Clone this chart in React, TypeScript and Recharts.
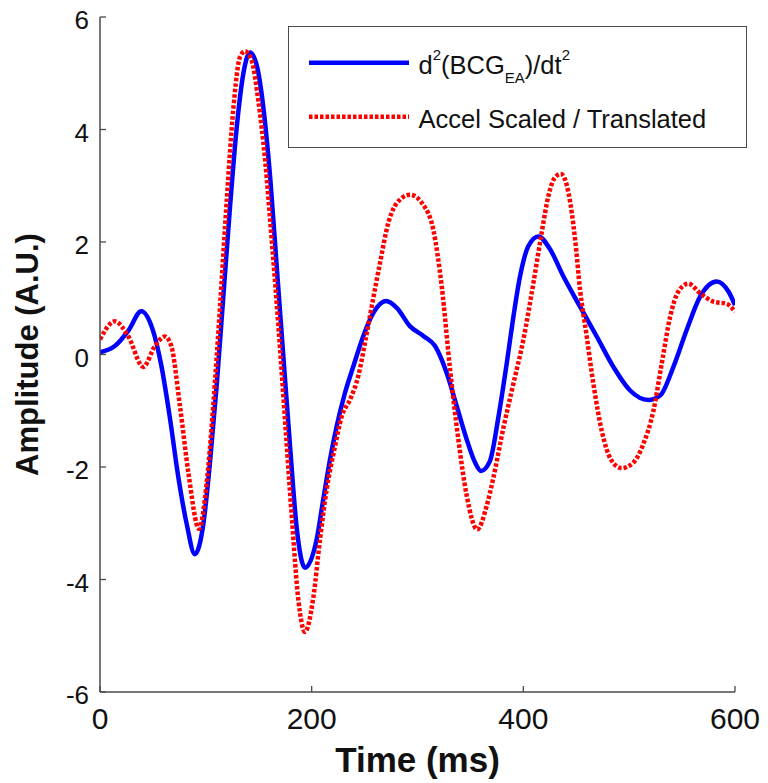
import React from 'react';
import { LineChart, Line, XAxis, YAxis, Legend, Label } from 'recharts';

// ---- data ----
const timeTicks = [0, 200, 400, 600];
const ampTicks = [-6, -4, -2, 0, 2, 4, 6];

const bcgTime = [
  0, 14, 27, 39, 50, 58, 66, 74, 82, 89.6, 97.6, 103.7, 110.2, 116.4, 122.8, 129.1, 135.5, 141.7,
  148, 154.5, 161, 167, 173.1, 179.5, 185.9, 193.7, 204.8, 211, 217.4, 223.7, 231.5, 239.4, 248.8,
  258.3, 270.3, 280.4, 293, 305.5, 316.6, 327.6, 337.1, 346.5, 354.4, 360, 368.5, 376.4, 384.3,
  390.6, 396.9, 404.8, 414.2, 425.3, 437.8, 453.6, 469.4, 485.1, 500.9, 518.2, 529.2, 541.8, 554.4,
  567, 582.8, 593.8, 600,
];
const bcgAmp = [
  0.04, 0.15, 0.43, 0.77, 0.43, -0.2, -1.12, -2.18, -3.02, -3.55, -3.02, -1.96, -0.56, 1.0, 2.61, 4.02, 5.0, 5.37,
  5.15, 4.37, 3.1, 1.56, 0.0, -1.61, -3.09, -3.79, -3.28, -2.57, -1.86, -1.27, -0.68, -0.21, 0.33,
  0.74, 0.95, 0.83, 0.5, 0.33, 0.15, -0.33, -0.92, -1.51, -1.92, -2.07, -1.89, -1.12, -0.16,
  0.67, 1.39, 1.93, 2.1, 1.87, 1.39, 0.85, 0.32, -0.22, -0.64, -0.81, -0.73, -0.22, 0.44,
  1.03, 1.3, 1.12, 0.88,
];

const accelTime = [
  0, 14.1, 26.8, 40.9, 51.9, 61.4, 67.4, 75.5, 83.5, 93.6, 100.6, 107, 113.4, 119.8, 126, 132.3, 137,
  143.4, 149.6, 156, 162.2, 168.6, 174.9, 181.2, 187.4, 193.7, 201.5, 207.8, 214, 222.1, 228.4, 236.3,
  244.1, 250.4, 256.8, 264.6, 272.4, 280.4, 293, 305.5, 314.9, 322.9, 330.8, 338.6, 346.5, 356.4,
  365.4, 371.7, 381.2, 390.6, 400, 409.5, 417.4, 423.7, 430, 435.6, 442.6, 448.9, 453.6, 459.9, 466.2,
  474.1, 483.5, 493, 504, 513.4, 522.9, 530.8, 538.7, 546.5, 556, 567, 579.6, 592.2, 600,
];
const accelAmp = [
  0.27, 0.59, 0.32, -0.22, 0.15, 0.32, 0.15, -0.91, -2.1, -3.1, -2.32, -0.91, 0.85, 2.75, 4.37, 5.29, 5.39,
  5.22, 4.51, 3.46, 2.05, 0.5, -1.19, -2.88, -4.36, -4.93, -4.33, -3.3, -2.42, -1.63, -1.1, -0.8,
  -0.38, 0.21, 0.86, 1.63, 2.34, 2.69, 2.84, 2.66, 2.22, 1.21, -0.27, -1.51, -2.51, -3.11,
  -2.69, -2.19, -1.3, -0.52, 0.26, 1.27, 2.17, 2.82, 3.15, 3.21, 2.88, 2.05, 1.15, 0.32, -0.52,
  -1.36, -1.89, -2.02, -1.92, -1.59, -1.0, -0.16, 0.67, 1.12, 1.26, 1.09, 0.94, 0.9, 0.76,
];

const bcgData = bcgTime.map((t, i) => ({ t, v: bcgAmp[i] }));
const accelData = accelTime.map((t, i) => ({ t, v: accelAmp[i] }));

// ---- styling ----
const W = 768;
const H = 783;
const AXIS = '#4a4a4a';
const FONT = '"Liberation Sans", Arial, Helvetica, sans-serif';
const TICK_LEN = 6;

function BottomTick(props: any) {
  const { x, y, payload } = props;
  return (
    <g>
      <line x1={x} y1={y} x2={x} y2={y - TICK_LEN} stroke={AXIS} strokeWidth={1.3} />
      <text x={x} y={y + 37} textAnchor="middle" fontSize={30} fill="#111" fontFamily={FONT}>
        {payload.value}
      </text>
    </g>
  );
}

function TopTick(props: any) {
  const { x, y } = props;
  return <line x1={x} y1={y} x2={x} y2={y + TICK_LEN} stroke={AXIS} strokeWidth={1.3} />;
}

function LeftTick(props: any) {
  const { x, y, payload } = props;
  return (
    <g>
      <line x1={x} y1={y} x2={x + TICK_LEN} y2={y} stroke={AXIS} strokeWidth={1.3} />
      <text x={x - 11} y={y + 12} textAnchor="end" fontSize={26} fill="#111" fontFamily={FONT}>
        {payload.value}
      </text>
    </g>
  );
}

function RightTick(props: any) {
  const { x, y } = props;
  return <line x1={x} y1={y} x2={x - TICK_LEN} y2={y} stroke={AXIS} strokeWidth={1.3} />;
}

function XTitle(props: any) {
  const vb = props.viewBox || { x: 100, y: 692, width: 635, height: 91 };
  return (
    <text
      x={vb.x + vb.width / 2}
      y={vb.y + 80}
      textAnchor="middle"
      fontSize={35}
      fontWeight="bold"
      fill="#111"
      fontFamily={FONT}
    >
      Time (ms)
    </text>
  );
}

function YTitle(props: any) {
  const vb = props.viewBox || { x: 0, y: 17, width: 100, height: 675 };
  const cx = vb.x + 37.5;
  const cy = vb.y + vb.height / 2;
  return (
    <text
      x={cx}
      y={cy}
      transform={`rotate(-90 ${cx} ${cy})`}
      textAnchor="middle"
      fontSize={31}
      fontWeight="bold"
      fill="#111"
      fontFamily={FONT}
    >
      Amplitude (A.U.)
    </text>
  );
}

function LegendBox() {
  return (
    <div
      style={{
        width: 459,
        height: 122,
        boxSizing: 'border-box',
        border: `1.5px solid ${AXIS}`,
        background: '#fff',
      }}
    >
      <svg width={456} height={119} style={{ display: 'block' }}>
        <line x1={20} x2={120} y1={35.8} y2={35.8} stroke="#0000ff" strokeWidth={4.5} />
        <line x1={20} x2={120} y1={89.8} y2={89.8} stroke="#ff0000" strokeWidth={4.5} strokeDasharray="3.5 2" />
        <text x={129.5} y={46.8} fontSize={25.5} fill="#111" fontFamily={FONT}>
          d
          <tspan fontSize={15} dy={-14}>2</tspan>
          <tspan dy={14}>(BCG</tspan>
          <tspan fontSize={15} dy={9}>EA</tspan>
          <tspan dy={-9}>)/dt</tspan>
          <tspan fontSize={15} dy={-14}>2</tspan>
        </text>
        <text x={129.5} y={100.8} fontSize={25.5} fill="#111" fontFamily={FONT}>
          Accel Scaled / Translated
        </text>
      </svg>
    </div>
  );
}

export default function App() {
  return (
    <div style={{ position: 'absolute', left: 0, top: 0, width: W, height: H, background: '#fff' }}>
      <LineChart width={W} height={H} margin={{ top: 17, right: 33, bottom: 0, left: 0 }}>
        <XAxis
          xAxisId="bottom"
          dataKey="t"
          type="number"
          domain={[0, 600]}
          ticks={timeTicks}
          interval={0}
          allowDataOverflow
          height={91}
          tickSize={0}
          tickMargin={0}
          tickLine={false}
          tick={<BottomTick />}
          axisLine={{ stroke: AXIS, strokeWidth: 1.5 }}
        >
          <Label content={<XTitle />} />
        </XAxis>
        <XAxis
          xAxisId="top"
          orientation="top"
          dataKey="t"
          type="number"
          domain={[0, 600]}
          ticks={timeTicks}
          interval={0}
          allowDataOverflow
          height={0}
          tickSize={0}
          tickMargin={0}
          tickLine={false}
          tick={<TopTick />}
          axisLine={{ stroke: AXIS, strokeWidth: 1.5 }}
        />
        <YAxis
          yAxisId="left"
          type="number"
          domain={[-6, 6]}
          ticks={ampTicks}
          interval={0}
          allowDataOverflow
          width={100}
          tickSize={0}
          tickMargin={0}
          tickLine={false}
          tick={<LeftTick />}
          axisLine={{ stroke: AXIS, strokeWidth: 1.5 }}
        >
          <Label content={<YTitle />} />
        </YAxis>
        <YAxis
          yAxisId="right"
          orientation="right"
          type="number"
          domain={[-6, 6]}
          ticks={ampTicks}
          interval={0}
          allowDataOverflow
          width={0}
          tickSize={0}
          tickMargin={0}
          tickLine={false}
          tick={<RightTick />}
          axisLine={{ stroke: AXIS, strokeWidth: 1.5 }}
        />
        <Line
          xAxisId="bottom"
          yAxisId="left"
          data={bcgData}
          dataKey="v"
          name="d²(BCG_EA)/dt²"
          type="monotone"
          stroke="#0000ff"
          strokeWidth={4.5}
          dot={false}
          activeDot={false}
          isAnimationActive={false}
        />
        <Line
          xAxisId="bottom"
          yAxisId="left"
          data={accelData}
          dataKey="v"
          name="Accel Scaled / Translated"
          type="monotone"
          stroke="#ff0000"
          strokeWidth={4.5}
          strokeDasharray="3.5 2"
          dot={false}
          activeDot={false}
          isAnimationActive={false}
        />
        <Legend
          layout="horizontal"
          verticalAlign="middle"
          align="center"
          wrapperStyle={{ position: 'absolute', left: 288, top: 26, width: 459, height: 122, right: 'auto', bottom: 'auto' }}
          content={() => <LegendBox />}
        />
      </LineChart>
    </div>
  );
}
